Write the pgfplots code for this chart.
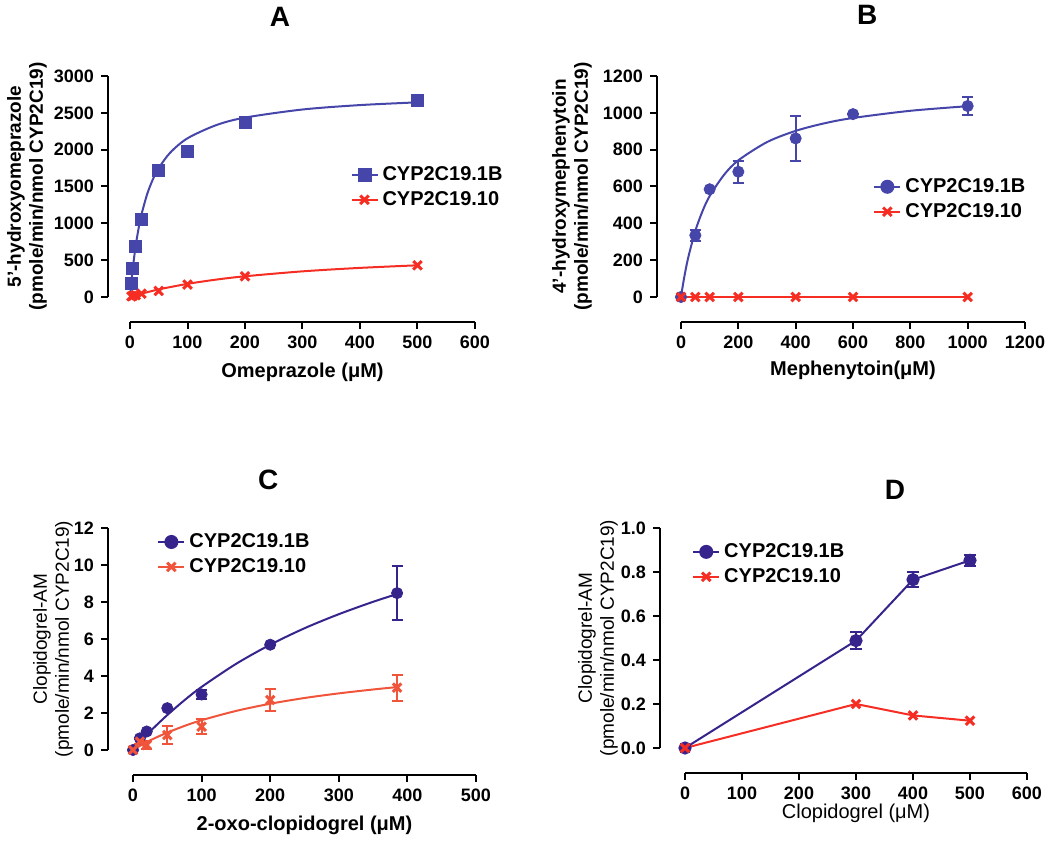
\documentclass[border=0pt]{standalone}
\usepackage{fontspec}
\setmainfont{Liberation Sans}
\usepackage{pgfplots}
\pgfplotsset{compat=1.18}

\definecolor{blueA}{RGB}{70,70,170}
\definecolor{redA}{RGB}{245,45,35}
\definecolor{blueC}{RGB}{55,35,140}
\definecolor{redC}{RGB}{240,85,60}

\tikzset{ttl/.style={font=\bfseries\fontsize{14}{16}\selectfont}}

\pgfplotsset{
  base/.style={
    scale only axis, anchor=south west, clip=false,
    axis line style={line width=1pt, -},
    tick align=outside, major tick length=3.5pt,
    tick style={line width=1pt, black},
    minor tick num=0, scaled ticks=false,
    /pgf/number format/assume math mode=true,
    /pgf/number format/1000 sep={},
    tick label style={font=\bfseries\fontsize{9}{10}\selectfont},
  },
  % data layer: no axis drawn, the Prism-style axes are separate
  dataax/.style={base, hide axis,
    legend style={draw=none, fill=none, inner sep=0pt, anchor=north west,
      font=\bfseries\fontsize{10}{12}\selectfont, row sep=0pt},
    legend cell align=left,
    legend image code/.code={
      \draw[mark repeat=2,mark phase=2,##1]
        plot coordinates {(0pt,0pt) (6.5pt,0pt) (13pt,0pt)};
    },
    error bars/error bar style={line width=1pt},
    error bars/error mark options={line width=1pt, mark size=2.8pt, rotate=90},
  },
  xax/.style={base, height=1pt, ymin=0, ymax=1, axis y line=none,
    axis x line*=bottom, ytick=\empty,
    xlabel style={font=\bfseries\fontsize{10}{12}\selectfont, anchor=center}},
  yax/.style={base, width=1pt, xmin=0, xmax=1, axis x line=none,
    axis y line*=left, xtick=\empty,
    ylabel style={font=\bfseries\fontsize{9.5}{11}\selectfont, align=center, anchor=center}},
  fitline/.style={line width=1pt, smooth, no marks, forget plot},
  xmk/.style={mark=x, mark size=3pt, mark options={line width=1.5pt}},
}

\begin{document}
\begin{tikzpicture}
\useasboundingbox (0pt,0pt) rectangle (525pt,424.5pt);

% ---------------- A ----------------
\begin{axis}[xax, at={(65pt,263.5pt)}, width=172.5pt,
  xmin=0, xmax=600, xtick={0,100,...,600},
  xlabel={Omeprazole (μM)},
  xlabel style={at={(axis description cs:0.5,-25)}}]
\end{axis}
\begin{axis}[yax, at={(54pt,276pt)}, height=110.5pt,
  ymin=0, ymax=3000, ytick={0,500,...,3000},
  ylabel={5'-hydroxyomeprazole\\(pmole/min/nmol CYP2C19)},
  ylabel style={at={(axis description cs:-40.5,0.5)}}]
\end{axis}
\begin{axis}[dataax, at={(65pt,276pt)}, width=172.5pt, height=110.5pt,
  xmin=0, xmax=600, ymin=0, ymax=3000,
  legend style={at={(axis description cs:0.638,0.611)}}]
\addlegendimage{blueA, line width=1pt, mark=square*, mark size=3pt}
\addlegendimage{redA, line width=1pt, xmk}
\legend{CYP2C19.1B, CYP2C19.10}
\addplot[blueA, fitline] coordinates {
 (0,0) (2.5,215) (5,400) (10,700) (15,933) (20,1120) (30,1400) (40,1600)
 (50,1750) (70,1960) (100,2154) (150,2333) (200,2435) (300,2545) (400,2605) (500,2642)};
\addplot[blueA, only marks, mark=square*, mark size=3pt, forget plot] coordinates {
 (2.5,181) (5,385) (10,693) (20,1056) (50,1722) (100,1971) (200,2370) (500,2664)};
\addplot[redA, fitline] coordinates {
 (0,0) (10,24) (20,45) (50,103) (100,178) (150,236) (200,281) (300,348) (400,395) (500,430)};
\addplot[redA, only marks, xmk, forget plot] coordinates {
 (2.5,8) (5,15) (10,25) (20,45) (50,82) (100,168) (200,281) (500,430)};
\node[ttl] at (axis description cs:0.435,1.267) {A};
\end{axis}

% ---------------- B ----------------
\begin{axis}[xax, at={(340.5pt,263.5pt)}, width=172pt,
  xmin=0, xmax=1200, xtick={0,200,...,1200},
  xlabel={Mephenytoin(μM)},
  xlabel style={at={(axis description cs:0.5,-24)}}]
\end{axis}
\begin{axis}[yax, at={(328.5pt,276pt)}, height=110.5pt,
  ymin=0, ymax=1200, ytick={0,200,...,1200},
  ylabel={4'-hydroxymephenytoin\\(pmole/min/nmol CYP2C19)},
  ylabel style={at={(axis description cs:-42.5,0.5)}}]
\end{axis}
\begin{axis}[dataax, at={(340.5pt,276pt)}, width=172pt, height=110.5pt,
  xmin=0, xmax=1200, ymin=0, ymax=1200,
  legend style={at={(axis description cs:0.558,0.557)}}]
\addlegendimage{blueA, line width=1pt, mark=*, mark size=3pt}
\addlegendimage{redA, line width=1pt, xmk}
\legend{CYP2C19.1B, CYP2C19.10}
\addplot[blueA, fitline] coordinates {
 (0,0) (10,96) (25,213) (50,359) (75,466) (100,548) (150,663) (200,742)
 (300,841) (400,902) (500,943) (600,972) (800,1011) (1000,1036)};
\addplot[blueA, only marks, mark=*, mark size=2.8pt, forget plot,
  error bars/.cd, y dir=both, y explicit] coordinates {
 (0,0) (50,335) +- (0,30) (100,585) +- (0,0) (200,680) +- (0,60)
 (400,861) +- (0,121) (600,993) +- (0,0) (1000,1037) +- (0,50)};
\addplot[redA, line width=1pt, xmk, forget plot] coordinates {
 (0,0) (50,0) (100,0) (200,0) (400,0) (600,0) (1000,0)};
\node[ttl] at (axis description cs:0.541,1.276) {B};
\end{axis}

% ---------------- C ----------------
\begin{axis}[xax, at={(66.5pt,37pt)}, width=171.5pt,
  xmin=0, xmax=500, xtick={0,100,...,500},
  xlabel={2-oxo-clopidogrel (μM)},
  xlabel style={at={(axis description cs:0.5,-25)}}]
\end{axis}
\begin{axis}[yax, at={(54pt,49.5pt)}, height=111pt,
  ymin=0, ymax=12, ytick={0,2,...,12},
  ylabel={Clopidogrel-AM\\(pmole/min/nmol CYP2C19)},
  ylabel style={at={(axis description cs:-27.5,0.5)}, font=\fontsize{9.5}{11}\selectfont}]
\end{axis}
\begin{axis}[dataax, at={(66.5pt,49.5pt)}, width=171.5pt, height=111pt,
  xmin=0, xmax=500, ymin=0, ymax=12,
  legend style={at={(axis description cs:0.07,0.995)}}]
\addlegendimage{blueC, line width=1pt, mark=*, mark size=3pt}
\addlegendimage{redC, line width=1pt, xmk}
\legend{CYP2C19.1B, CYP2C19.10}
\addplot[blueC, fitline] coordinates {
 (0,0) (10,0.41) (20,0.81) (30,1.19) (50,1.89) (75,2.69) (100,3.41) (150,4.65)
 (200,5.69) (250,6.58) (300,7.34) (350,8.01) (385,8.43)};
\addplot[blueC, only marks, mark=*, mark size=2.8pt, forget plot,
  error bars/.cd, y dir=both, y explicit] coordinates {
 (0,0) (10,0.63) +- (0,0) (20,1.0) +- (0,0) (50,2.26) +- (0,0)
 (100,3.0) +- (0,0.25) (200,5.69) +- (0,0) (385,8.48) +- (0,1.44)};
\addplot[redC, fitline] coordinates {
 (0,0) (10,0.22) (20,0.42) (30,0.61) (50,0.94) (75,1.30) (100,1.61) (150,2.11)
 (200,2.50) (250,2.81) (300,3.06) (350,3.27) (385,3.40)};
\addplot[redC, only marks, xmk, forget plot,
  error bars/.cd, y dir=both, y explicit] coordinates {
 (0,0) (10,0.45) +- (0,0.15) (20,0.27) +- (0,0.2) (50,0.81) +- (0,0.48)
 (100,1.26) +- (0,0.4) (200,2.7) +- (0,0.6) (385,3.37) +- (0,0.7)};
\node[ttl] at (axis description cs:0.394,1.216) {C};
\end{axis}

% ---------------- D ----------------
\begin{axis}[xax, at={(342.5pt,38pt)}, width=171pt,
  xmin=0, xmax=600, xtick={0,100,...,600},
  xlabel={Clopidogrel (μM)},
  xlabel style={at={(axis description cs:0.5,-20)}, font=\fontsize{10}{12}\selectfont}]
\end{axis}
\begin{axis}[yax, at={(330pt,50.5pt)}, height=110pt,
  ymin=0, ymax=1, ytick={0,0.2,...,1.0},
  yticklabel style={/pgf/number format/.cd, fixed, fixed zerofill, precision=1},
  ylabel={Clopidogrel-AM\\(pmole/min/nmol CYP2C19)},
  ylabel style={at={(axis description cs:-31,0.5)}, font=\fontsize{9.5}{11}\selectfont}]
\end{axis}
\begin{axis}[dataax, at={(342.5pt,50.5pt)}, width=171pt, height=110pt,
  xmin=0, xmax=600, ymin=0, ymax=1,
  legend style={at={(axis description cs:0.02,0.95)}}]
\addlegendimage{blueC, line width=1pt, mark=*, mark size=3pt}
\addlegendimage{redA, line width=1pt, xmk}
\legend{CYP2C19.1B, CYP2C19.10}
\addplot[blueC, line width=1pt, mark=*, mark size=2.8pt, forget plot,
  error bars/.cd, y dir=both, y explicit] coordinates {
 (0,0) (300,0.488) +- (0,0.04) (400,0.765) +- (0,0.035) (500,0.853) +- (0,0.025)};
\addplot[redA, line width=1pt, xmk, forget plot] coordinates {
 (0,0) (300,0.2) (400,0.148) (500,0.124)};
\node[ttl] at (axis description cs:0.614,1.173) {D};
\end{axis}
\end{tikzpicture}
\end{document}
